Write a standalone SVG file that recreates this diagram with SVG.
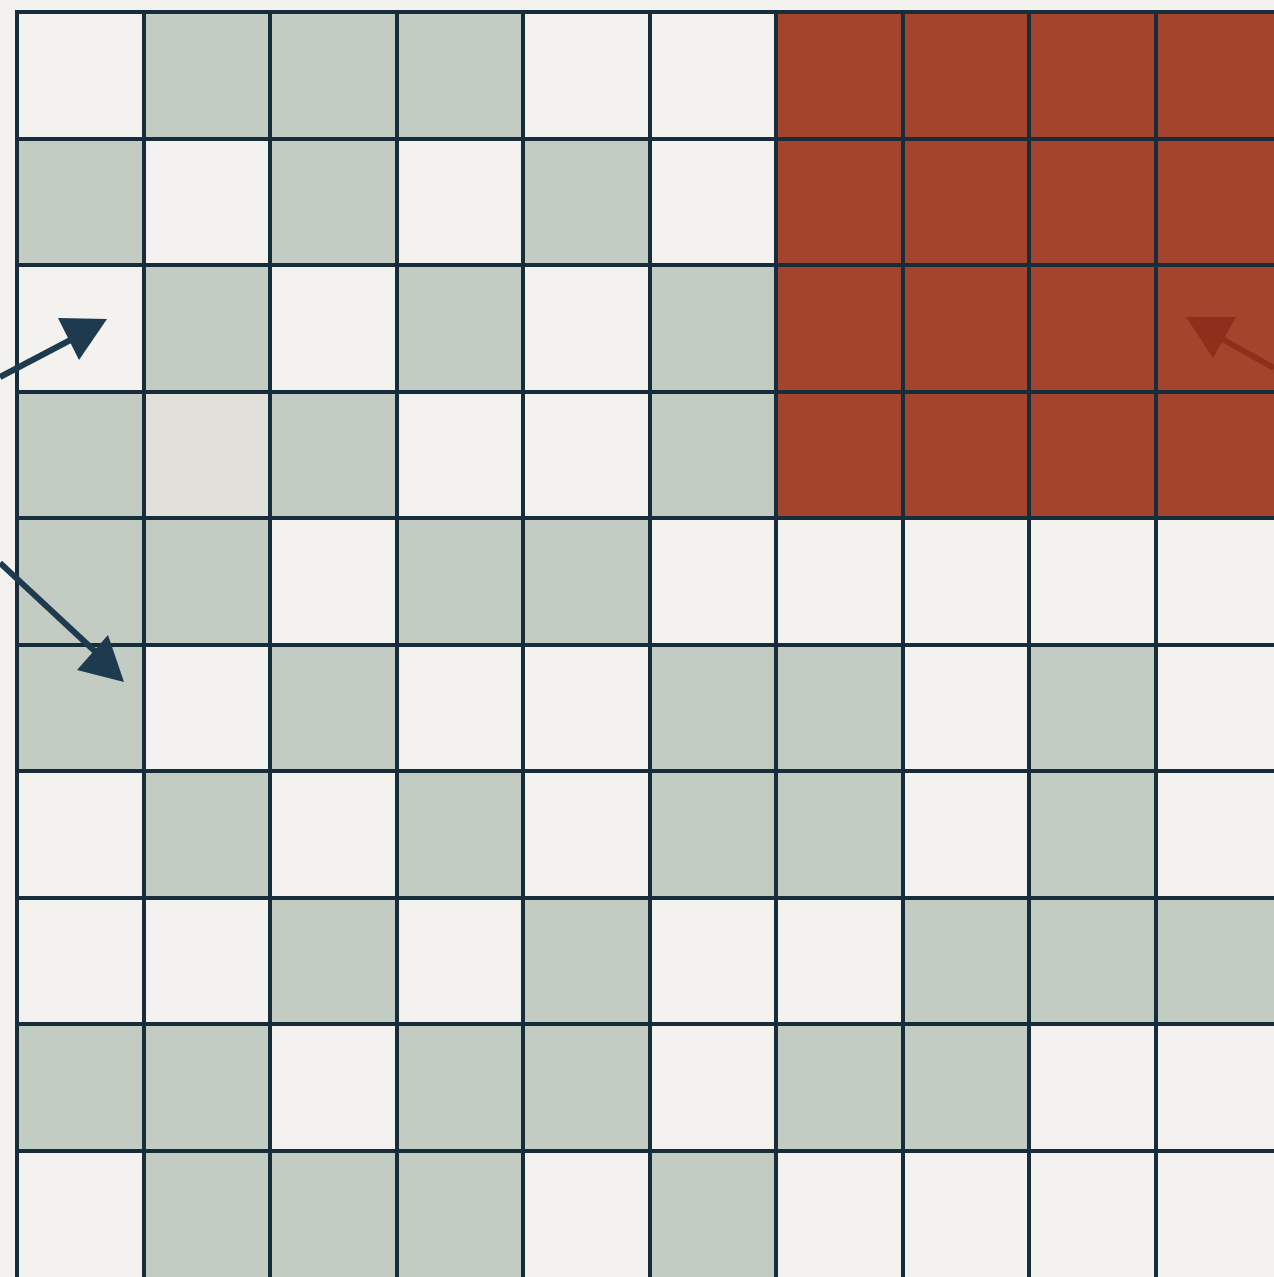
<svg xmlns="http://www.w3.org/2000/svg" width="1274" height="1277" viewBox="0 0 1274 1277">
<defs>
<style>
.w{fill:#f3f2ee}.g{fill:#c3ccc3}.r{fill:#a5442c}.b{fill:#e1e0da}
.ln{stroke:#172d3c;stroke-width:4;fill:none}
.ar{stroke:#1d3a4f;stroke-width:6;fill:none}
.ah{fill:#1d3a4f}
.rar{stroke:#8e2f1b;stroke-width:6;fill:none}
.rah{fill:#8e2f1b}
</style>
</defs>
<rect width="1274" height="1277" fill="#f3f2ee"/>
<g id="cells">
<!-- row 0 -->
<rect class="w" x="17" y="12" width="127" height="127"/><rect class="g" x="144" y="12" width="126" height="127"/><rect class="g" x="270" y="12" width="127" height="127"/><rect class="g" x="397" y="12" width="126" height="127"/><rect class="w" x="523" y="12" width="127" height="127"/><rect class="w" x="650" y="12" width="126" height="127"/><rect class="r" x="776" y="12" width="498" height="506"/>
<!-- row 1 -->
<rect class="g" x="17" y="139" width="127" height="126"/><rect class="w" x="144" y="139" width="126" height="126"/><rect class="g" x="270" y="139" width="127" height="126"/><rect class="w" x="397" y="139" width="126" height="126"/><rect class="g" x="523" y="139" width="127" height="126"/><rect class="w" x="650" y="139" width="126" height="126"/>
<!-- row 2 -->
<rect class="w" x="17" y="265" width="127" height="127"/><rect class="g" x="144" y="265" width="126" height="127"/><rect class="w" x="270" y="265" width="127" height="127"/><rect class="g" x="397" y="265" width="126" height="127"/><rect class="w" x="523" y="265" width="127" height="127"/><rect class="g" x="650" y="265" width="126" height="127"/>
<!-- row 3 -->
<rect class="g" x="17" y="392" width="127" height="126"/><rect class="b" x="144" y="392" width="126" height="126"/><rect class="g" x="270" y="392" width="127" height="126"/><rect class="w" x="397" y="392" width="126" height="126"/><rect class="w" x="523" y="392" width="127" height="126"/><rect class="g" x="650" y="392" width="126" height="126"/>
<!-- row 4 -->
<rect class="g" x="17" y="518" width="127" height="127"/><rect class="g" x="144" y="518" width="126" height="127"/><rect class="w" x="270" y="518" width="127" height="127"/><rect class="g" x="397" y="518" width="126" height="127"/><rect class="g" x="523" y="518" width="127" height="127"/>
<!-- row 5 -->
<rect class="g" x="17" y="645" width="127" height="126"/><rect class="g" x="270" y="645" width="127" height="126"/><rect class="g" x="650" y="645" width="126" height="126"/><rect class="g" x="776" y="645" width="127" height="126"/><rect class="g" x="1029" y="645" width="127" height="126"/>
<!-- row 6 -->
<rect class="g" x="144" y="771" width="126" height="127"/><rect class="g" x="397" y="771" width="126" height="127"/><rect class="g" x="650" y="771" width="126" height="127"/><rect class="g" x="776" y="771" width="127" height="127"/><rect class="g" x="1029" y="771" width="127" height="127"/>
<!-- row 7 -->
<rect class="g" x="270" y="898" width="127" height="126"/><rect class="g" x="523" y="898" width="127" height="126"/><rect class="g" x="903" y="898" width="126" height="126"/><rect class="g" x="1029" y="898" width="127" height="126"/><rect class="g" x="1156" y="898" width="118" height="126"/>
<!-- row 8 -->
<rect class="g" x="17" y="1024" width="127" height="127"/><rect class="g" x="144" y="1024" width="126" height="127"/><rect class="g" x="397" y="1024" width="126" height="127"/><rect class="g" x="523" y="1024" width="127" height="127"/><rect class="g" x="776" y="1024" width="127" height="127"/><rect class="g" x="903" y="1024" width="126" height="127"/>
<!-- row 9 -->
<rect class="g" x="144" y="1151" width="126" height="126"/><rect class="g" x="270" y="1151" width="127" height="126"/><rect class="g" x="397" y="1151" width="126" height="126"/><rect class="g" x="650" y="1151" width="126" height="126"/>
</g>
<g id="grid" class="ln">
<path d="M17 12V1277M144 12V1277M270 12V1277M397 12V1277M523 12V1277M650 12V1277M776 12V1277M903 12V1277M1029 12V1277M1156 12V1277"/>
<path d="M15 12H1274M15 139H1274M15 265H1274M15 392H1274M15 518H1274M15 645H1274M15 771H1274M15 898H1274M15 1024H1274M15 1151H1274"/>
</g>
<g id="connectors">
<path class="ar" d="M0 377L80 335"/>
<polygon class="ah" points="107,319 58,318 79,360"/>
<path class="ar" d="M0 563L100 656"/>
<polygon class="ah" points="124,682 108,635 77,670"/>
<path class="rar" d="M1274 368L1208 331"/>
<polygon class="rah" points="1186,317 1236,317 1213,358"/>
</g>
</svg>
